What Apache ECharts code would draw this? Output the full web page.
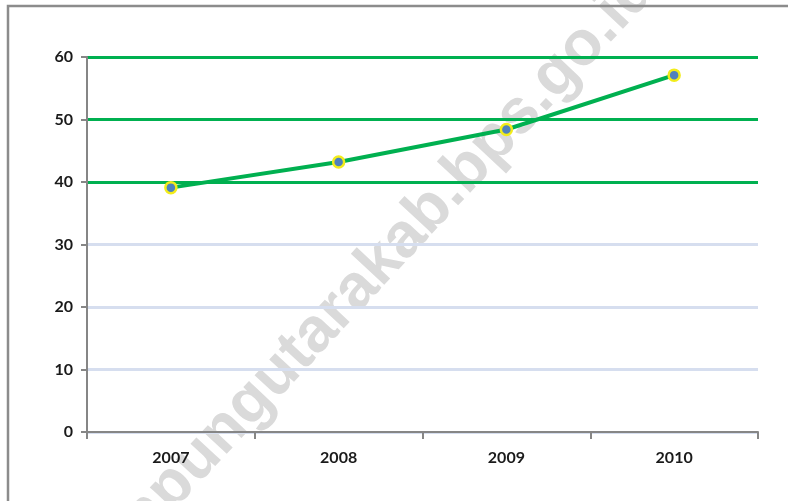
<!DOCTYPE html>
<html>
<head>
<meta charset="utf-8">
<script src="https://cdn.jsdelivr.net/npm/echarts@6/dist/echarts.min.js"></script>
<style>html,body{margin:0;padding:0;background:#fff;}#c{width:788px;height:501px;}</style>
</head>
<body>
<div id="c"></div>
<script>
var categories = ['2007', '2008', '2009', '2010'];
var values = [39.1, 43.2, 48.4, 57.1];
var yTicks = [0, 10, 20, 30, 40, 50, 60];
var watermark = 'lampungutarakab.bps.go.id';

var chart = echarts.init(document.getElementById('c'), null, {renderer: 'canvas'});
var splitColors = yTicks.map(function (v) { return v >= 40 ? '#00b050' : '#d6deef'; });
chart.setOption({
  animation: false,
  backgroundColor: '#ffffff',
  grid: {left: 87, right: 30, top: 57, bottom: 69, containLabel: false},
  graphic: [
    {type: 'rect', shape: {x: 8, y: 6, width: 800, height: 600},
     style: {fill: 'none', stroke: '#8c8c8c', lineWidth: 2.5}, z: 100},
    {type: 'text', x: 365, y: 280, rotation: 47 * Math.PI / 180, z: -10,
     style: {text: watermark, font: 'bold 63px "Liberation Sans", Arial, sans-serif',
             fill: '#dadada', align: 'center', verticalAlign: 'middle'}}
  ],
  xAxis: {
    type: 'category',
    data: categories,
    boundaryGap: true,
    axisLine: {lineStyle: {color: '#868686', width: 2}},
    axisTick: {show: true, length: 7, lineStyle: {color: '#868686', width: 2}},
    axisLabel: {margin: 18, color: '#1a1a1a', fontSize: 16, fontWeight: 'bold', fontFamily: 'Lato, "Open Sans", sans-serif'},
    splitLine: {show: false}
  },
  yAxis: {
    type: 'value',
    min: 0, max: 60, interval: 10,
    axisLine: {show: true, lineStyle: {color: '#868686', width: 2}},
    axisTick: {show: true, length: 6, lineStyle: {color: '#868686', width: 2}},
    axisLabel: {margin: 14, color: '#1a1a1a', fontSize: 16, fontWeight: 'bold', fontFamily: 'Lato, "Open Sans", sans-serif'},
    splitLine: {show: true, lineStyle: {color: splitColors, width: 3}}
  },
  series: [{
    type: 'line',
    data: values,
    symbol: 'circle',
    symbolSize: 11,
    lineStyle: {color: '#00b050', width: 4},
    itemStyle: {color: '#4f81bd', borderColor: '#f2ec1a', borderWidth: 2.5},
    z: 5
  }]
});
</script>
</body>
</html>
